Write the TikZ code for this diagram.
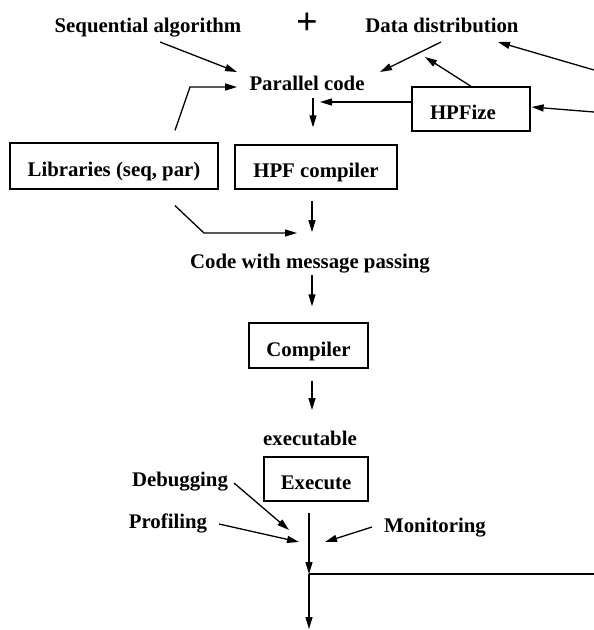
\documentclass[tikz,border=0pt]{standalone}
\usepackage{fontspec}
\setmainfont{Liberation Serif}
\usetikzlibrary{arrows.meta,calc}
\tikzset{
	>={Triangle[length=12pt,width=7pt]},
	lbl/.style={inner sep=0pt, anchor=base, font=\fontsize{20.8}{24}\selectfont\bfseries},
	stage/.style={draw, inner sep=0pt, text height=22pt, text depth=1pt,
			font=\fontsize{20.8}{24}\selectfont\bfseries}
}

\begin{document}
\begin{tikzpicture}[x=1pt, y=-1pt, line width=1.3pt]
        \useasboundingbox (0,0) rectangle (594,630);
        % inputs
        \node[lbl] (seq) at (148,32) {Sequential algorithm};
        \node[inner sep=0pt, font=\fontsize{38}{38}\selectfont\bfseries] (plus) at (307,24) {+};
        \node[lbl] (dist) at (442,32) {Data distribution};
        \node[lbl] (par) at (307,90) {Parallel code};
        \node[stage, minimum width=118pt, minimum height=44pt, text width=82pt, align=left] (hpfize) at (471,109) {HPFize};
        \node[stage, minimum width=208pt, minimum height=46pt] (libs) at (114,166) {Libraries (seq, par)};
        \node[stage, minimum width=162pt, minimum height=44pt] (hpfc) at (316,167) {HPF compiler};
        \node[lbl] (msg) at (310,268) {Code with message passing};
        \node[stage, minimum width=119pt, minimum height=45pt] (comp) at (308.5,345.5) {Compiler};
        \node[lbl] (exe) at (310,445) {executable};
        \node[stage, minimum width=104pt, minimum height=44pt] (run) at (316,479) {Execute};
        \node[lbl] (dbg) at (180,486) {Debugging};
        \node[lbl] (prof) at (168,528) {Profiling};
        \node[lbl] (mon) at (435,532) {Monitoring};
        \coordinate (rtop) at (594,70);
        \coordinate (rmid) at (594,112);
        \coordinate (join) at (309,574);
        \coordinate (rbot) at (594,574);
        \coordinate (out) at (309,629);

        % upper part
        \draw [->] ($(seq.base)+(12,10)$) -- ($(par.base)+(-70,-18)$);
        \draw [->] ($(dist.base)+(-1,10)$) -- ($(par.base)+(73,-18)$);
        \draw [->] (hpfize.north) -- ($(dist.base)+(-17,25)$);
        \draw [->] (rtop) -- ($(dist.base)+(56,10)$);
        \draw [->] ($(hpfize.west)+(0,-7)$) -- ($(par.base)+(13,12)$);
        \draw [->] (rmid) -- ($(hpfize.east)+(1,-2)$);
        \draw [->] ($(par.base)+(6,8)$) -- ($(hpfc.north)+(-3,-17)$);
        \draw [->] ($(libs.north)+(61,-12)$) -- ($(par.base)+(-117,-3)$) -- ($(par.base)+(-70,-3)$);

        % lower part
        \draw [->] ($(libs.south)+(61,16)$) -- ($(msg.base)+(-106,-35)$) -- ($(msg.base)+(-13,-35)$);
        \draw [->] ($(hpfc.south)+(-4,11)$) -- ($(msg.base)+(2,-36)$);
        \draw [->] ($(msg.base)+(2,7)$) -- ($(comp.north)+(3.5,-16)$);
        \draw [->] ($(comp.south)+(3.5,12)$) -- ($(exe.base)+(2,-35)$);
        \draw [->] ($(run.south)+(-7,11)$) -- (join);
        \draw (join) -- (rbot);
        \draw [->] (join) -- (out);
        \draw [->] ($(dbg.base)+(54,-3)$) -- ($(join)+(-20,-44)$);
        \draw [->] ($(prof.base)+(51,-4)$) -- ($(join)+(-10,-32)$);
        \draw [->] ($(mon.base)+(-63,-5)$) -- ($(join)+(16,-32)$);
    \end{tikzpicture}
\end{document}
